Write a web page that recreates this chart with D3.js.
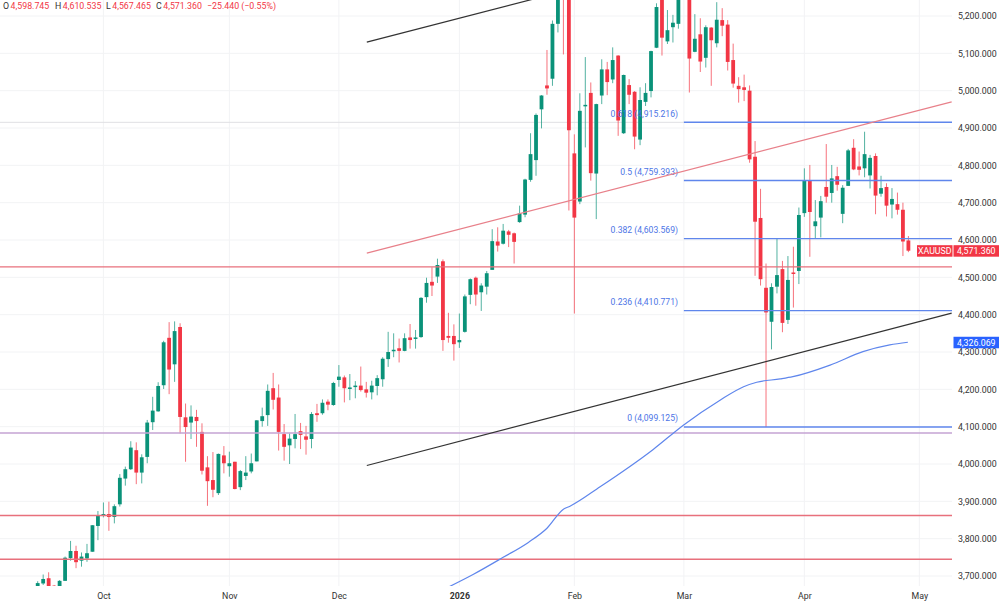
<!DOCTYPE html>
<html>
<head>
<meta charset="utf-8">
<script src="https://cdn.jsdelivr.net/npm/d3@7"></script>
<style>
html, body { margin: 0; padding: 0; background: #fff; }
svg { display: block; font-family: Roboto, sans-serif; }
</style>
</head>
<body>
<svg width="1000" height="605"></svg>
<script>
// daily candles. bars above the top edge are rough guesses
var opens = [3660,3680,3694,3674,3668,3687,3748,3767,3741,3747,
  3765,3834,3861,3866,3858,3892,3961,3986,4037,3977,
  4019,4112,4141,4211,4338,4267,4367,4125,4111,4126,
  4086,3991,3957,3922,4023,3994,4006,3938,3968,3980,
  4007,4115,4131,4203,4178,4080,4050,4067,4088,4074,
  4067,4136,4136,4167,4158,4225,4232,4202,4206,4210,
  4200,4192,4209,4227,4281,4303,4310,4303,4339,4335,
  4340,4447,4488,4502,4543,4343,4343,4326,4354,4453,
  4499,4460,4475,4520,4596,4590,4623,4618,4648,4668,
  4761,4814,4950,5014,5032,5179,5300,5265,4832,4703,
  4958,4994,4778,4987,5057,5030,5094,4886,5015,4997,
  4869,4970,4999,5115,5260,5132,5170,5179,5280,5280,
  5104,5151,5088,5169,5127,5189,5177,5082,5013,5009,
  5000,4823,4659,4472,4381,4475,4522,4386,4513,4517,
  4672,4758,4637,4660,4742,4726,4771,4670,4745,4847,
  4797,4792,4773,4825,4724,4742,4695,4696,4681,4598.745];
var highs = [3686,3704,3710,3676,3689,3752,3794,3781,3763,3786,
  3836,3874,3897,3899,3892,3973,3993,4061,4058,4026,
  4118,4180,4219,4330,4380,4382,4377,4162,4157,4145,
  4109,4021,4032,4028,4048,4033,4006,3984,4021,4028,
  4117,4151,4213,4244,4213,4107,4082,4134,4110,4102,
  4139,4161,4173,4173,4220,4265,4237,4241,4222,4261,
  4220,4223,4238,4286,4354,4350,4336,4350,4375,4359,
  4447,4499,4527,4550,4548,4405,4374,4403,4454,4497,
  4502,4484,4517,4629,4634,4643,4627,4620,4692,4764,
  4886,4939,4988,5109,5188,5290,5320,5300,4883,4993,
  5090,5022,4965,5084,5077,5116,5095,5043,5031,4999,
  5009,5020,5107,5234,5280,5216,5203,5300,5340,5320,
  5205,5194,5175,5170,5237,5221,5189,5126,5036,5043,
  5014,4865,4737,4537,4484,4603,4544,4557,4582,4687,
  4792,4801,4707,4718,4857,4801,4796,4747,4844,4870,
  4837,4890,4828,4832,4772,4752,4739,4727,4700,4610.535];
var lows = [3655,3676,3650,3660,3660,3687,3741,3721,3725,3738,
  3765,3796,3857,3821,3841,3886,3942,3984,3946,3948,
  4002,4091,4140,4201,4187,4220,4082,4006,4067,4046,
  3972,3888,3911,3917,3975,3966,3932,3930,3957,3975,
  4007,4100,4102,4146,4036,4009,4000,4042,4040,4025,
  4042,4113,4132,4144,4156,4207,4165,4171,4176,4194,
  4178,4173,4184,4207,4260,4286,4272,4302,4309,4309,
  4338,4432,4450,4485,4303,4325,4277,4311,4352,4428,
  4424,4410,4454,4520,4569,4588,4581,4537,4646,4661,
  4756,4772,4899,4989,5013,5156,5097,4679,4403,4696,
  4848,4759,4656,4964,4988,5020,4879,4884,4964,4843,
  4854,4959,4982,5114,5094,5125,5129,5166,5255,4995,
  5103,5050,5062,5013,5116,5146,5054,5008,4968,4972,
  4807,4504,4478,4099,4307,4457,4353,4375,4419,4482,
  4662,4555,4603,4607,4700,4700,4732,4645,4745,4787,
  4773,4768,4738,4669,4716,4663,4658,4668,4557,4567.465];
var closes = [3681,3692,3660,3665,3687,3749,3767,3737,3752,3761,
  3836,3862,3866,3858,3887,3963,3986,4044,3977,4018,
  4111,4143,4209,4326,4253,4356,4126,4099,4127,4115,
  3982,3954,3931,4027,4002,4002,3933,3981,3977,4002,
  4117,4128,4196,4172,4086,4046,4068,4080,4078,4065,
  4134,4131,4164,4159,4217,4234,4203,4205,4210,4198,
  4191,4210,4230,4282,4300,4306,4303,4337,4332,4339,
  4445,4485,4478,4533,4332,4338,4321,4332,4449,4495,
  4454,4478,4511,4597,4585,4625,4614,4595,4671,4762,
  4830,4935,4987,5006,5179,5270,5255,4894,4660,4946,
  4962,4779,4964,5057,5023,5082,4920,5042,4989,4877,
  4975,4994,5106,5224,5142,5162,5182,5270,5320,5086,
  5139,5078,5170,5135,5190,5174,5077,5019,5004,5002,
  4816,4649,4495,4406,4474,4506,4378,4493,4510,4667,
  4759,4675,4650,4704,4716,4765,4748,4740,4840,4789,
  4788,4830,4820,4719,4739,4692,4710,4681,4596,4571.36];

var priceTicks = [5200,5100,5000,4900,4800,4700,4600,4500,4400,4300,4200,4100,4000,3900,3800,3700];
var monthBars = [12,35,55,77,98,118,140,161];
var monthNames = ["Oct","Nov","Dec","2026","Feb","Mar","Apr","May"];

var redLevels = [4528,3862,3745];
var purpleLevel = 4083;
var fibRatios = ["0.618","0.5","0.382","0.236","0"];
var fibValues = [4915.216,4759.393,4603.569,4410.771,4099.125];

// trend lines as [bar, price] pairs
var redTrend = [[60.1,4565],[166.9,4970]];
var blackUpper = [[60.1,5130],[166.9,5535]];
var blackLower = [[60.1,3996],[166.9,4404]];

// moving average, points
var maBars = [75.1,79.5,85.0,89.6,93.0,96.0,97.2,102.7,112.4,117.9,124.6,128.9,131.3,135.6,137.9,144.7,150.7,155.6,158.9];
var maValues = [3671,3704,3750,3790,3828,3879,3887,3939,4039,4104,4171,4207,4219,4228,4234,4265,4301,4319,4326.069];

var plotRight = 952, plotBottom = 586, labelSize = 8.8;
var green = "#0a9279", red = "#f23645", blue = "#2962ff", fibBlue = "#5f86ec";

var x = d3.scaleLinear().domain([0,159]).range([37.7,908.4]);
var y = d3.scaleLinear().domain([5200,3700]).range([16,576]);

var svg = d3.select("svg");
svg.append("defs").append("clipPath").attr("id","plot")
  .append("rect").attr("width",plotRight).attr("height",plotBottom);

// grid
svg.append("g").selectAll("line").data(priceTicks).enter().append("line")
  .attr("x1",0).attr("x2",plotRight)
  .attr("y1",function(d){ return y(d); }).attr("y2",function(d){ return y(d); })
  .attr("stroke","#f2f3f5");
svg.append("g").selectAll("line").data(monthBars).enter().append("line")
  .attr("x1",function(d){ return x(d); }).attr("x2",function(d){ return x(d); })
  .attr("y1",0).attr("y2",plotBottom)
  .attr("stroke","#f2f3f5");

var plot = svg.append("g").attr("clip-path","url(#plot)");

plot.append("line")
  .attr("x1",0).attr("x2",x(monthBars[5]))
  .attr("y1",y(fibValues[0])).attr("y2",y(fibValues[0]))
  .attr("stroke","#dfe0e3");

// candles
var candles = plot.append("g").selectAll("g").data(opens).enter().append("g");
candles.append("line")
  .attr("x1",function(d,i){ return x(i); }).attr("x2",function(d,i){ return x(i); })
  .attr("y1",function(d,i){ return y(highs[i]); }).attr("y2",function(d,i){ return y(lows[i]); })
  .attr("stroke",function(d,i){ return closes[i] >= d ? green : red; })
  .attr("stroke-opacity",0.7);
candles.append("rect")
  .attr("x",function(d,i){ return x(i)-1.9; })
  .attr("width",3.8)
  .attr("y",function(d,i){ return y(Math.max(d,closes[i])); })
  .attr("height",function(d,i){ return Math.max(1.5,Math.abs(y(d)-y(closes[i]))); })
  .attr("fill",function(d,i){ return closes[i] >= d ? green : red; });

// horizontal levels
plot.append("g").selectAll("line").data(redLevels).enter().append("line")
  .attr("x1",0).attr("x2",plotRight)
  .attr("y1",function(d){ return y(d); }).attr("y2",function(d){ return y(d); })
  .attr("stroke","#e8707c").attr("stroke-width",1.4);
plot.append("line")
  .attr("x1",0).attr("x2",plotRight)
  .attr("y1",y(purpleLevel)).attr("y2",y(purpleLevel))
  .attr("stroke","#c5a3d3").attr("stroke-width",1.6);

// fib retracement
plot.append("g").selectAll("line").data(fibValues).enter().append("line")
  .attr("x1",x(monthBars[5])).attr("x2",plotRight)
  .attr("y1",function(d){ return y(d); }).attr("y2",function(d){ return y(d); })
  .attr("stroke",fibBlue).attr("stroke-width",1.4);
plot.append("g").selectAll("text").data(fibValues).enter().append("text")
  .attr("x",678)
  .attr("y",function(d){ return y(d)-5.5; })
  .attr("text-anchor","end")
  .attr("font-size",8.6)
  .attr("fill","#4c74e6")
  .text(function(d,i){ return fibRatios[i]+" ("+d3.format(",.3f")(d)+")"; });

// trend lines
var trendLine = d3.line().x(function(d){ return x(d[0]); }).y(function(d){ return y(d[1]); });
plot.append("path").attr("d",trendLine(redTrend)).attr("fill","none").attr("stroke","#e8808a").attr("stroke-width",1.2);
plot.append("path").attr("d",trendLine(blackUpper)).attr("fill","none").attr("stroke","#333").attr("stroke-width",1.2);
plot.append("path").attr("d",trendLine(blackLower)).attr("fill","none").attr("stroke","#333").attr("stroke-width",1.2);

var maLine = d3.line()
  .x(function(d,i){ return x(maBars[i]); })
  .y(function(d){ return y(d); })
  .curve(d3.curveMonotoneX);
plot.append("path").attr("d",maLine(maValues)).attr("fill","none").attr("stroke",fibBlue).attr("stroke-width",1.2);

// axes
var priceAxis = d3.axisRight(y).tickValues(priceTicks).tickSize(0).tickPadding(0).tickFormat(d3.format(",.3f"));
var priceG = svg.append("g").attr("transform","translate(958,0)").call(priceAxis);
priceG.select(".domain").remove();
priceG.selectAll("text").attr("font-family","Roboto, sans-serif").attr("font-size",labelSize).attr("fill","#333");

var timeAxis = d3.axisBottom(x).tickValues(monthBars).tickSize(0).tickPadding(0)
  .tickFormat(function(d,i){ return monthNames[i]; });
var timeG = svg.append("g").attr("transform","translate(0,593)").call(timeAxis);
timeG.select(".domain").remove();
timeG.selectAll("text").attr("font-family","Roboto, sans-serif").attr("font-size",labelSize).attr("fill","#333")
  .attr("font-weight",function(d,i){ return monthNames[i]=="2026" ? "bold" : null; });

// last price badges
var last = closes[closes.length-1], lastMa = maValues[maValues.length-1];
function badge(x0,w,val,txt,color){
  svg.append("rect").attr("x",x0).attr("y",y(val)-5.5).attr("width",w).attr("height",11.5).attr("fill",color);
  svg.append("text").attr("x",x0+w/2).attr("y",y(val)+3.4).attr("text-anchor","middle")
    .attr("font-size",labelSize).attr("fill","#fff").text(txt);
}
badge(917,35.5,last,"XAUUSD",red);
badge(953.5,45.5,last,d3.format(",.3f")(last),red);
badge(953.5,45.5,lastMa,d3.format(",.3f")(lastMa),blue);

// legend
var legendKeys = ["O","H","L","C"];
var legendX = [3,55,106,156];
var legendVals = [opens[159],highs[159],lows[159],closes[159]];
var legend = svg.append("g").attr("font-size",labelSize);
legendKeys.forEach(function(k,i){
  var t = legend.append("text").attr("x",legendX[i]).attr("y",9);
  t.append("tspan").attr("fill","#333").text(k);
  t.append("tspan").attr("fill",red).attr("dx",1.5).text(d3.format(",.3f")(legendVals[i]));
});
legend.append("text").attr("x",207).attr("y",9).attr("fill",red).text("\u221225.440 (\u22120.55%)");
</script>
</body>
</html>
